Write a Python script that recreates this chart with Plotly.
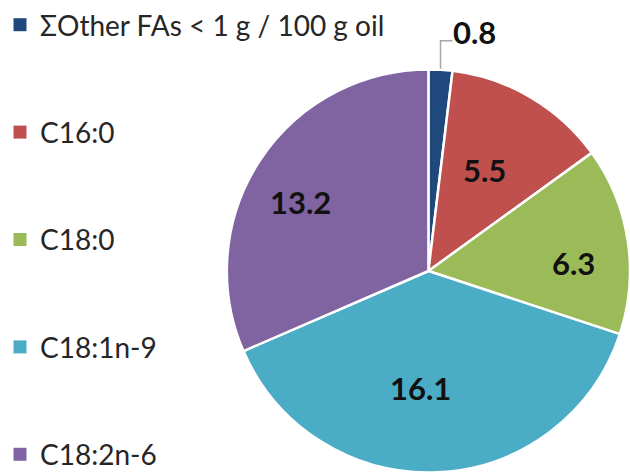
import math
import plotly.graph_objects as go

# Fatty acid composition (g / 100 g oil)
labels = ["ΣOther FAs < 1 g / 100 g oil", "C16:0", "C18:0", "C18:1n-9", "C18:2n-6"]
values = [0.8, 5.5, 6.3, 16.1, 13.2]
colors = ["#1F497D", "#C0504D", "#9BBB59", "#4BACC6", "#8064A2"]

# placement of each value label: fraction of the pie radius and angular nudge (deg)
label_radius = [None, 0.57, 0.72, 0.58, 0.72]
label_nudge = [0, -1.5, 5.5, 6.5, -5.0]

W, H = 630, 475
dom_x = [0.357, 1.0]
dom_y = [0.002, 0.857]
label_font = dict(family="Lato", size=31, color="#111111")

fig = go.Figure()

fig.add_trace(go.Pie(
    labels=labels, values=values, sort=False, direction="clockwise", rotation=0,
    marker=dict(colors=colors, line=dict(color="white", width=2.5)),
    textinfo="none", domain=dict(x=dom_x, y=dom_y), showlegend=False,
    hoverinfo="label+value",
))

# legend entries, one group each so they can be spaced apart
for lab, col in zip(labels, colors):
    fig.add_trace(go.Scatter(
        x=[None], y=[None], mode="markers", name=lab, legendgroup=lab,
        marker=dict(symbol="square", size=13, color=col),
    ))

# pie geometry in pixels
total = sum(values)
cx = (dom_x[0] + dom_x[1]) / 2 * W
cy = (1 - (dom_y[0] + dom_y[1]) / 2) * H
r = min((dom_x[1] - dom_x[0]) * W, (dom_y[1] - dom_y[0]) * H) / 2
to_x = lambda v: v / W
to_y = lambda v: 1 - v / H

cum = 0.0
for i, v in enumerate(values):
    mid = (cum + v / 2) / total * 2 * math.pi
    cum += v
    if label_radius[i] is None:
        # small slice: elbow leader line to a label above the pie
        px, py = cx + r * math.sin(mid), cy - r * math.cos(mid)
        ey, ex = py - 28, px + 12
        fig.add_shape(type="path", xref="paper", yref="paper",
                      path=f"M{to_x(px)},{to_y(py)} L{to_x(px)},{to_y(ey)} L{to_x(ex)},{to_y(ey)}",
                      line=dict(color="#A6A6A6", width=1.5))
        fig.add_annotation(xref="paper", yref="paper", x=to_x(ex - 1), y=to_y(ey - 9),
                           xanchor="left", yanchor="middle", showarrow=False,
                           text=f"<b>{v}</b>", font=label_font)
    else:
        a = mid + math.radians(label_nudge[i])
        lr = r * label_radius[i]
        fig.add_annotation(xref="paper", yref="paper",
                           x=to_x(cx + lr * math.sin(a)), y=to_y(cy - lr * math.cos(a)),
                           xanchor="center", yanchor="middle", showarrow=False,
                           text=f"<b>{v}</b>", font=label_font)

fig.update_layout(
    width=W, height=H, margin=dict(l=0, r=0, t=0, b=0),
    paper_bgcolor="white", plot_bgcolor="white",
    xaxis=dict(visible=False), yaxis=dict(visible=False),
    legend=dict(x=-0.005, y=0.98, xanchor="left", yanchor="top",
                font=dict(family="Lato", size=28, color="#262626"),
                tracegroupgap=68, maxheight=2000, bgcolor="rgba(0,0,0,0)"),
)

fig.write_html("out.html")
